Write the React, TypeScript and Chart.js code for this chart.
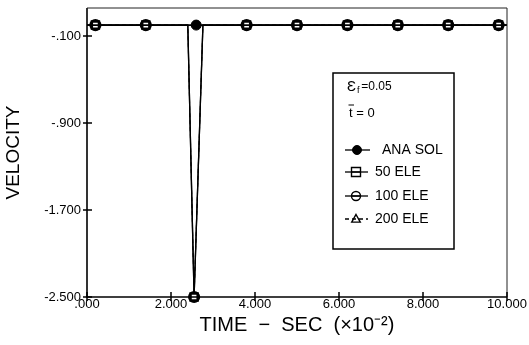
import React, { useEffect, useRef } from "react";
import { Chart, registerables } from "chart.js";

Chart.register(...registerables);

// ---- data ----
const xTickValues = [0, 2, 4, 6, 8, 10];
const xTickLabels = [".000", "2.000", "4.000", "6.000", "8.000", "10.000"];
const yTickValues = [-2.5, -1.7, -0.9, -0.1];
const yTickLabels = ["-2.500", "-1.700", "-.900", "-.100"];

const anaTimes = [0, 2.6, 10];
const anaSol = [0, 0, 0];
const anaMarks = [0, 1, 0];

const eleTimes = [0, 0.2, 1.4, 2.4, 2.55, 2.76, 3.8, 5.0, 6.2, 7.4, 8.6, 9.8, 10];
const ele50 = [0, 0, 0, 0, -2.5, 0, 0, 0, 0, 0, 0, 0, 0];
const ele100 = [0, 0, 0, 0, -2.5, 0, 0, 0, 0, 0, 0, 0, 0];
const ele200 = [0, 0, 0, 0, -2.5, 0, 0, 0, 0, 0, 0, 0, 0];
const eleMarks = [0, 1, 1, 0, 1, 0, 1, 1, 1, 1, 1, 1, 0];

const legendNote1 = { sym: "\u0190", sub: "f", rest: " =0.05" };
const legendNote2 = "t = 0";

const FONT = "'Liberation Sans', Arial, sans-serif";

function pts(xs: number[], ys: number[]) {
  return xs.map((x, i) => ({ x, y: ys[i] }));
}

function drawMarker(ctx: CanvasRenderingContext2D, style: string, x: number, y: number, r: number, fill: string) {
  ctx.beginPath();
  if (style === "rect") {
    ctx.rect(x - r, y - r, 2 * r, 2 * r);
  } else if (style === "triangle") {
    ctx.moveTo(x, y - r);
    ctx.lineTo(x + r * 0.95, y + r * 0.7);
    ctx.lineTo(x - r * 0.95, y + r * 0.7);
    ctx.closePath();
  } else {
    ctx.arc(x, y, r, 0, Math.PI * 2);
  }
  ctx.fillStyle = fill;
  ctx.fill();
  ctx.stroke();
}

const framePlugin = {
  id: "frame",
  afterDraw(chart: any) {
    const { ctx, chartArea: a, scales } = chart;
    ctx.save();
    ctx.strokeStyle = "#000";
    // axes
    ctx.lineWidth = 1.6;
    ctx.beginPath();
    ctx.moveTo(a.left, a.top);
    ctx.lineTo(a.left, a.bottom);
    ctx.lineTo(a.right, a.bottom);
    ctx.stroke();
    // top and right frame
    ctx.lineWidth = 1;
    ctx.strokeStyle = "#222";
    ctx.beginPath();
    ctx.moveTo(a.left, a.top);
    ctx.lineTo(a.right, a.top);
    ctx.lineTo(a.right, a.bottom);
    ctx.stroke();
    // crossing tick marks
    ctx.strokeStyle = "#000";
    ctx.lineWidth = 1.5;
    ctx.beginPath();
    xTickValues.forEach((v) => {
      const px = scales.x.getPixelForValue(v);
      ctx.moveTo(px, a.bottom - 5);
      ctx.lineTo(px, a.bottom + 4);
    });
    yTickValues.forEach((v) => {
      const py = scales.y.getPixelForValue(v);
      ctx.moveTo(a.left - 4, py);
      ctx.lineTo(a.left + 5, py);
    });
    ctx.stroke();

    // legend box
    const bx = 333, by = 73, bw = 121, bh = 176;
    ctx.lineWidth = 1.5;
    ctx.strokeStyle = "#000";
    ctx.fillStyle = "#fff";
    ctx.fillRect(bx, by, bw, bh);
    ctx.strokeRect(bx, by, bw, bh);

    ctx.fillStyle = "#000";
    ctx.textBaseline = "middle";
    ctx.textAlign = "left";
    ctx.font = `15px ${FONT}`;
    ctx.fillText(legendNote1.sym, 347, 87);
    ctx.font = `9px ${FONT}`;
    ctx.fillText(legendNote1.sub, 357, 91);
    ctx.font = `12px ${FONT}`;
    ctx.fillText(legendNote1.rest, 358, 87);

    ctx.font = `13px ${FONT}`;
    ctx.fillText(legendNote2, 349, 113);
    ctx.lineWidth = 1;
    ctx.beginPath();
    ctx.moveTo(348.5, 105);
    ctx.lineTo(354, 105);
    ctx.stroke();

    const rows = [150, 172, 196, 219];
    chart.data.datasets.forEach((ds: any, i: number) => {
      const y = rows[i];
      ctx.save();
      ctx.strokeStyle = "#000";
      ctx.lineWidth = 1.3;
      if (ds.borderDash) ctx.setLineDash(ds.borderDash);
      ctx.beginPath();
      ctx.moveTo(345, y);
      ctx.lineTo(i === 0 ? 370 : 368, y);
      ctx.stroke();
      ctx.setLineDash([]);
      ctx.lineWidth = i === 0 ? 1 : 1.4;
      drawMarker(ctx, ds.pointStyle, i === 0 ? 357 : 356, y, 4.5, i === 0 ? "#000" : "rgba(255,255,255,0)");
      if (i > 0 && ds.pointStyle !== "triangle") {
        ctx.beginPath();
        ctx.moveTo(351, y);
        ctx.lineTo(361, y);
        ctx.stroke();
      }
      ctx.restore();
      ctx.fillStyle = "#000";
      ctx.font = `14px ${FONT}`;
      ctx.fillText(ds.label, i === 0 ? 382 : 375, y);
    });
    ctx.restore();
  },
};

export default function App() {
  const canvasRef = useRef<HTMLCanvasElement | null>(null);

  useEffect(() => {
    document.body.style.margin = "0";
    const canvas = canvasRef.current;
    if (!canvas) return;
    const radii = (marks: number[], r: number) => marks.map((m) => (m ? r : 0));
    const chart = new Chart(canvas, {
      type: "line",
      data: {
        datasets: [
          {
            label: "ANA SOL",
            data: pts(anaTimes, anaSol),
            borderColor: "#000",
            borderWidth: 1.6,
            pointStyle: "circle",
            pointRadius: radii(anaMarks, 5),
            pointBackgroundColor: "#000",
            pointBorderColor: "#000",
            pointBorderWidth: 1,
          },
          {
            label: "50 ELE",
            data: pts(eleTimes, ele50),
            borderColor: "#000",
            borderWidth: 1.3,
            pointStyle: "rect",
            pointRadius: radii(eleMarks, 5),
            pointBackgroundColor: "#fff",
            pointBorderColor: "#000",
            pointBorderWidth: 2.4,
          },
          {
            label: "100 ELE",
            data: pts(eleTimes, ele100),
            borderColor: "#000",
            borderWidth: 1.3,
            pointStyle: "circle",
            pointRadius: radii(eleMarks, 5),
            pointBackgroundColor: "rgba(255,255,255,0)",
            pointBorderColor: "#000",
            pointBorderWidth: 2.2,
          },
          {
            label: "200 ELE",
            data: pts(eleTimes, ele200),
            borderColor: "#000",
            borderWidth: 1,
            borderDash: [4, 3],
            pointStyle: "triangle",
            pointRadius: radii(eleMarks, 4),
            pointBackgroundColor: "rgba(255,255,255,0)",
            pointBorderColor: "#000",
            pointBorderWidth: 1.5,
          },
        ],
      },
      options: {
        animation: false,
        responsive: false,
        maintainAspectRatio: false,
        clip: false as any,
        layout: { padding: { top: 8, right: 22, left: 0, bottom: 0 } },
        plugins: {
          legend: { display: false },
          tooltip: { enabled: false },
        },
        elements: { line: { tension: 0 } },
        scales: {
          x: {
            type: "linear",
            min: 0,
            max: 10,
            afterBuildTicks: (s: any) => {
              s.ticks = xTickValues.map((v) => ({ value: v }));
            },
            afterFit: (s: any) => {
              s.height = 48;
              s.paddingLeft = 0;
              s.paddingRight = 0;
            },
            grid: { display: false, drawTicks: false },
            border: { display: false },
            ticks: {
              color: "#000",
              font: { family: FONT, size: 13 },
              padding: 0,
              maxRotation: 0,
              autoSkip: false,
              callback: (v: any) => xTickLabels[xTickValues.indexOf(Number(v))],
            },
            title: {
              display: true,
              text: "TIME  \u2212  SEC  (\u00d710\u207b\u00b2)",
              color: "#000",
              font: { family: FONT, size: 20 },
              padding: { top: 0, bottom: 8 },
            },
          },
          y: {
            type: "linear",
            min: -2.5,
            max: 0.157,
            afterBuildTicks: (s: any) => {
              s.ticks = yTickValues.map((v) => ({ value: v }));
            },
            afterFit: (s: any) => {
              s.width = 87;
              s.paddingTop = 0;
              s.paddingBottom = 0;
            },
            grid: { display: false, drawTicks: false },
            border: { display: false },
            ticks: {
              color: "#000",
              font: { family: FONT, size: 13 },
              padding: 6,
              autoSkip: false,
              callback: (v: any) => {
                const i = yTickValues.findIndex((t) => Math.abs(t - Number(v)) < 1e-6);
                return yTickLabels[i];
              },
            },
            title: {
              display: true,
              text: "VELOCITY",
              color: "#000",
              font: { family: FONT, size: 19 },
              padding: { top: 2, bottom: 0 },
            },
          },
        },
      },
      plugins: [framePlugin],
    });
    return () => chart.destroy();
  }, []);

  return (
    <div style={{ position: "absolute", left: 0, top: 0, width: 529, height: 345, background: "#fff" }}>
      <canvas ref={canvasRef} width={529} height={345} style={{ width: 529, height: 345 }} />
    </div>
  );
}
